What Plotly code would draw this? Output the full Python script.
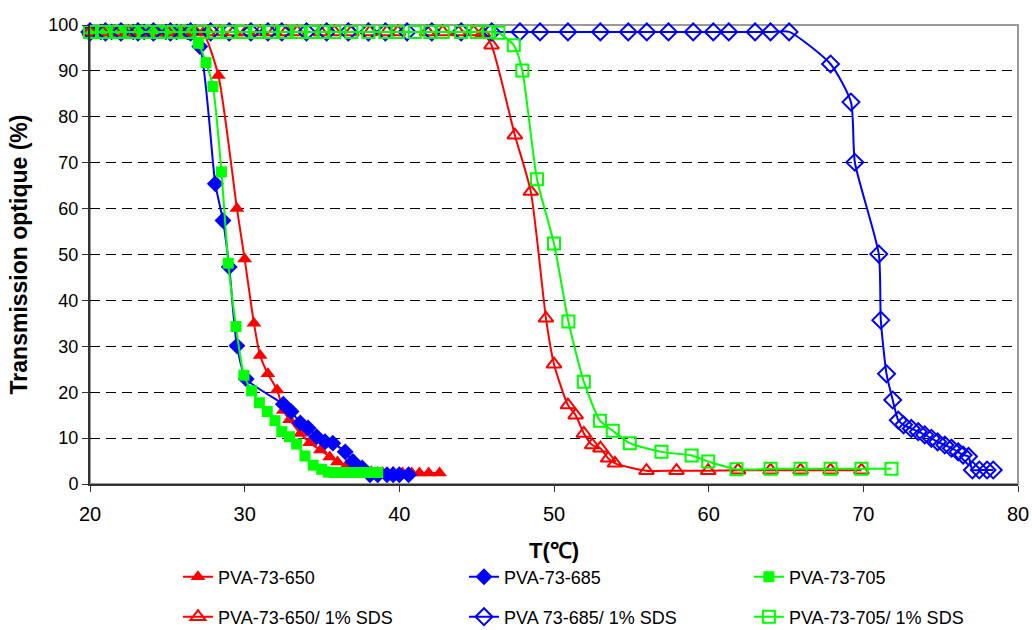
import plotly.graph_objects as go

# ---------------- data ----------------
t_650 = [20.0, 20.6, 21.3, 22.0, 22.6, 23.3, 24.0, 24.6, 25.3, 26.0, 26.6, 27.3,
         28.3, 29.5, 30.0, 30.6, 31.0, 31.5, 32.1, 32.5, 32.9, 33.6, 34.2, 34.9,
         35.5, 36.0, 36.6, 37.5, 38.2, 38.9, 39.6, 40.2, 40.8, 41.3, 41.9, 42.6]
v_650 = [98.5, 98.5, 98.5, 98.5, 98.5, 98.5, 98.5, 98.5, 98.5, 98.5, 98.5, 98.3,
         89, 60, 49, 35, 28, 24, 20.5, 16, 14, 11, 9, 7.4,
         5.9, 4.8, 4.1, 3.0, 2.6, 2.5, 2.5, 2.4, 2.4, 2.4, 2.4, 2.4]

t_685 = [20.0, 20.7, 21.4, 22.1, 22.8, 23.5, 24.2, 24.9, 25.6, 26.3, 27.1, 28.1,
         28.6, 29.0, 29.5, 30.1, 32.5, 33.0, 33.6, 34.1, 34.65, 35.2, 35.7, 36.5,
         37.0, 37.6, 38.1, 38.6, 39.2, 39.6, 40.0, 40.6]
v_685 = [98.5, 98.5, 98.5, 98.5, 98.5, 98.5, 98.5, 98.5, 98.5, 98.5, 95.3, 65.4,
         57.4, 47.3, 30.1, 22.9, 17.4, 15.8, 13.3, 12.2, 10.3, 9.2, 8.9, 7.0,
         4.9, 3.5, 2.0, 2.0, 2.0, 2.0, 2.0, 2.0]

t_705 = [20.0, 20.4, 20.9, 21.3, 21.8, 22.2, 22.7, 23.1, 23.6, 24.0, 24.5, 24.9,
         25.4, 25.8, 26.25, 27.0, 27.5, 27.95, 28.5, 28.94, 29.44, 29.95, 30.45,
         30.95, 31.46, 31.96, 32.4, 32.9, 33.36, 33.9, 34.43, 34.98, 35.4, 35.8,
         36.2, 36.6, 37.0, 37.4, 37.8, 38.2, 38.6]
v_705 = [98.7, 98.7, 98.7, 98.7, 98.7, 98.7, 98.7, 98.7, 98.7, 98.7, 98.7, 98.7,
         98.7, 98.7, 98.7, 96, 91.8, 86.6, 68, 48.1, 34.3, 23.7, 20.3,
         17.7, 15.8, 13.8, 11.4, 10.3, 8.7, 6.1, 4.1, 3.2, 2.6, 2.5,
         2.5, 2.5, 2.5, 2.5, 2.5, 2.5, 2.5]

t_650s = [20.0, 20.8, 21.6, 22.5, 23.3, 24.2, 25.0, 25.9, 26.8, 27.6, 28.4, 29.3,
          30.1, 31.0, 31.9, 32.7, 33.4, 34.9, 35.8, 36.9, 38.1, 39.2, 39.9, 41.8,
          42.8, 43.8, 44.8, 45.4, 45.96, 47.47, 48.5, 49.48, 50.0, 50.9, 51.4,
          51.93, 52.47, 53.0, 53.5, 53.94, 55.98, 57.92, 59.97, 61.9, 64.0,
          65.94, 67.88, 69.88]
v_650s = [98.5, 98.5, 98.5, 98.5, 98.5, 98.5, 98.5, 98.5, 98.5, 98.5, 98.5, 98.5,
          98.5, 98.5, 98.5, 98.5, 98.5, 98.5, 98.5, 98.5, 98.5, 98.5, 98.5, 98.5,
          98.5, 98.5, 98.5, 98.3, 95.6, 76, 63.7, 36.1, 26.1, 17.2, 15.0,
          11.0, 8.5, 7.8, 5.6, 4.5, 2.9, 2.9, 2.9, 3.0, 3.0,
          3.0, 3.0, 3.0]

t_685s = [20.0, 21.0, 22.0, 23.1, 24.1, 25.2, 26.5, 27.8, 29.0, 30.4, 31.5, 32.4,
          34.0, 35.3, 36.7, 38.0, 39.1, 40.5, 42.1, 44.0, 45.97, 47.8, 49.1, 50.9,
          53.0, 54.8, 56.0, 57.4, 59.0, 60.3, 61.3, 63.0, 64.0, 65.2, 67.88, 69.2,
          69.45, 71.0, 71.13, 71.5, 71.9, 72.26, 72.6, 73.1, 73.55, 73.97, 74.4,
          74.8, 75.27, 75.7, 76.13, 76.45, 76.8, 77.05, 77.5, 78.0, 78.4]
v_685s = [98.5, 98.5, 98.5, 98.5, 98.5, 98.5, 98.5, 98.5, 98.5, 98.5, 98.5, 98.5,
          98.5, 98.5, 98.5, 98.5, 98.5, 98.5, 98.5, 98.5, 98.5, 98.5, 98.5, 98.5,
          98.5, 98.5, 98.5, 98.5, 98.5, 98.5, 98.5, 98.5, 98.5, 98.5, 91.5, 83.2,
          70.1, 50.1, 35.7, 24.0, 18.3, 13.9, 12.9, 12.1, 11.4, 10.7, 9.95,
          9.2, 8.5, 7.8, 7.0, 6.3, 6.0, 3.05, 3.05, 3.05, 3.05]

t_705s = [20.0, 20.9, 21.8, 22.7, 23.6, 24.5, 25.4, 26.3, 27.2, 28.1, 29.0, 29.9,
          30.8, 31.7, 32.6, 33.5, 34.4, 35.1, 35.8, 36.9, 38.0, 39.1, 39.9, 41.0,
          42.0, 42.8, 44.0, 45.0, 45.8, 46.4, 47.4, 47.95, 48.9, 50.0, 50.93,
          51.93, 52.97, 53.8, 54.9, 56.95, 58.9, 59.97, 61.8, 64.0, 65.94, 67.88,
          69.88, 71.82]
v_705s = [98.5, 98.5, 98.5, 98.5, 98.5, 98.5, 98.5, 98.5, 98.5, 98.5, 98.5, 98.5,
          98.5, 98.5, 98.5, 98.5, 98.5, 98.5, 98.5, 98.5, 98.5, 98.5, 98.5, 98.5,
          98.5, 98.5, 98.5, 98.5, 98.5, 98.3, 95.6, 90.1, 66.4, 52.4, 35.4,
          22.3, 13.8, 11.6, 8.9, 7.0, 6.2, 4.9, 3.2, 3.3, 3.3, 3.3,
          3.3, 3.3]

x_ticks = [20, 30, 40, 50, 60, 70, 80]
y_ticks = [0, 10, 20, 30, 40, 50, 60, 70, 80, 90, 100]

RED, BLUE, GREEN = "#FF0000", "#0000FF", "#00FF00"
SANS = "Liberation Sans, Arial, sans-serif"

series = [
    ("PVA-73-650", t_650, v_650, RED, "triangle-up", 13),
    ("PVA-73-685", t_685, v_685, BLUE, "diamond", 13),
    ("PVA-73-705", t_705, v_705, GREEN, "square", 11),
    ("PVA-73-650/ 1% SDS", t_650s, v_650s, RED, "triangle-up-open", 13),
    ("PVA 73-685/ 1% SDS", t_685s, v_685s, BLUE, "diamond-open", 13),
    ("PVA-73-705/ 1% SDS", t_705s, v_705s, GREEN, "square-open", 12),
]

# one single-entry legend per item: 3 columns x 2 rows below the plot
leg_x = [0.0948, 0.403, 0.710]
leg_y = [-0.2026, -0.2898]

fig = go.Figure()
legends = {}
for i, (name, xs, ys, col, sym, size) in enumerate(series):
    key = "legend" if i == 0 else f"legend{i + 1}"
    fig.add_trace(go.Scatter(
        x=xs, y=ys, name=name, mode="lines+markers",
        line=dict(color=col, width=2, shape="spline", smoothing=0.6),
        marker=dict(symbol=sym, size=size, color=col,
                    line=dict(color=col, width=2 if "open" in sym else 0)),
        cliponaxis=False, legend=key,
    ))
    legends[key] = dict(
        x=leg_x[i % 3], y=leg_y[i // 3], xanchor="left", yanchor="middle",
        orientation="h", font=dict(family=SANS, size=18, color="black"),
        bgcolor="rgba(0,0,0,0)", itemsizing="trace",
    )

# plot frame (grey top / right border)
fig.add_shape(type="rect", xref="paper", yref="paper", x0=0, y0=0, x1=1, y1=1,
              line=dict(color="#999999", width=2), layer="between")

fig.update_layout(
    width=1032, height=630,
    margin=dict(l=90, r=14, t=25, b=146, autoexpand=False),
    paper_bgcolor="white", plot_bgcolor="white",
    showlegend=True,
    **legends,
    xaxis=dict(
        range=[20, 80], tickvals=x_ticks, ticktext=[str(v) for v in x_ticks],
        showgrid=False, zeroline=False, automargin=False,
        showline=True, linecolor="#333333", linewidth=2,
        ticks="outside", ticklen=6, tickcolor="#333333", tickwidth=1,
        tickfont=dict(family=SANS, size=20, color="black"),
        ticklabelstandoff=5,
        title=dict(text="<b>T(℃)</b>", font=dict(family=SANS, size=22, color="black"),
                   standoff=19),
    ),
    yaxis=dict(
        range=[0, 100], tickvals=y_ticks, ticktext=[str(v) for v in y_ticks],
        showgrid=True, gridcolor="black", gridwidth=1, griddash="10px,6px",
        zeroline=False, automargin=False,
        showline=True, linecolor="#333333", linewidth=2,
        ticks="outside", ticklen=6, tickcolor="#333333", tickwidth=1,
        tickfont=dict(family=SANS, size=18, color="black"),
        title=dict(text="<b>Transmission optique (%)</b>",
                   font=dict(family=SANS, size=23, color="black"), standoff=14),
    ),
)

fig.write_html("out.html",
               config={"displayModeBar": False},
               post_script="document.body.style.margin='0';"
                           "document.body.style.overflow='hidden';")
